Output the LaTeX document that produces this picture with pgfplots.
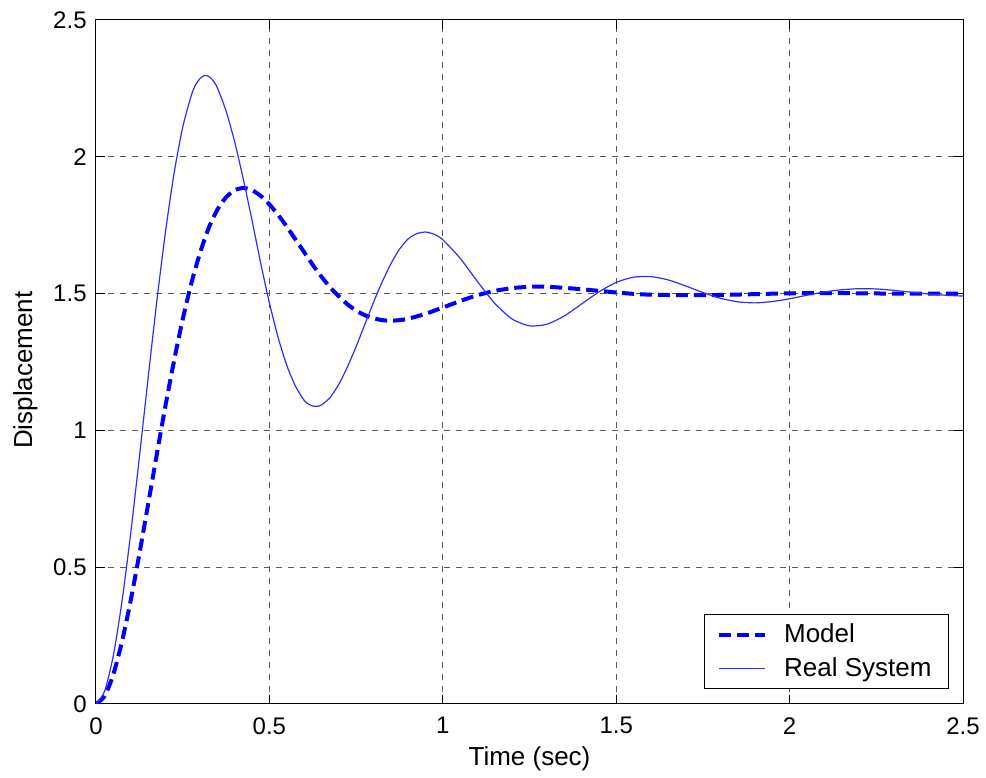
\documentclass[border=0pt]{standalone}
\usepackage{fontspec}
\setmainfont{Liberation Sans}
\usepackage{pgfplots}
\pgfplotsset{compat=1.18}
\definecolor{realblue}{RGB}{45,45,255}
\definecolor{gridgray}{RGB}{90,90,90}
\begin{document}
\begin{tikzpicture}
\begin{axis}[
  name=ax,
  scale only axis,
  width=433.5pt, height=342pt,
  xmin=0, xmax=2.5, ymin=0, ymax=2.5,
  xtick={0,0.5,1,1.5,2,2.5},
  ytick={0,0.5,1,1.5,2,2.5},
  /pgf/number format/assume math mode=true,
  tick label style={font=\fontsize{12}{14.4}\selectfont},
  xticklabel style={anchor=north, inner sep=0pt, yshift=-6.5pt},
  yticklabel style={anchor=east, inner sep=0pt, xshift=-4.5pt},
  tick align=inside,
  major tick length=4.5pt,
  tick style={black, line width=0.5pt},
  axis line style={black, line width=0.5pt},
  grid=major,
  major grid style={gridgray, line width=0.5pt, dash pattern=on 3pt off 3pt},
  xlabel={Time (sec)},
  ylabel={Displacement},
  label style={font=\fontsize{13}{15.6}\selectfont},
  xlabel style={at={(axis description cs:0.5,-0.0892)}, anchor=base},
  ylabel style={at={(axis description cs:-0.0738,0.488)}, anchor=base},
  legend style={at={(1,0)}, anchor=south east, xshift=-7pt, yshift=7.5pt,
    draw=black, line width=0.5pt, fill=white,
    inner xsep=6.5pt, inner ysep=2.5pt,
    font=\fontsize{13}{15.6}\selectfont,
    column sep=6.5pt, row sep=2pt},
  legend cell align=left,
  legend image code/.code={\draw[#1] (0pt,0pt) -- (23pt,0pt);},
]
\addplot[blue, line width=2pt, dash pattern=on 6pt off 3pt, smooth, tension=0.4] coordinates {
(0,0) (0.025,0.029) (0.05,0.108) (0.075,0.228) (0.1,0.378) (0.125,0.548)
(0.15,0.728) (0.175,0.910) (0.2,1.088) (0.225,1.254) (0.25,1.406)
(0.275,1.538) (0.3,1.649) (0.325,1.740) (0.35,1.807) (0.375,1.852)
(0.4,1.878) (0.425,1.886) (0.45,1.878) (0.475,1.857) (0.5,1.826)
(0.525,1.788) (0.55,1.745) (0.575,1.698) (0.6,1.652) (0.625,1.605)
(0.65,1.562) (0.675,1.523) (0.7,1.490) (0.725,1.461) (0.75,1.438)
(0.775,1.421) (0.8,1.410) (0.825,1.403) (0.85,1.401) (0.875,1.403)
(0.9,1.408) (0.95,1.426) (1.0,1.449) (1.05,1.473) (1.1,1.494)
(1.15,1.510) (1.2,1.520) (1.25,1.525) (1.3,1.525) (1.35,1.521)
(1.4,1.516) (1.45,1.510) (1.5,1.504) (1.55,1.499) (1.6,1.496)
(1.7,1.494) (1.8,1.495) (1.9,1.498) (2.0,1.501) (2.1,1.502)
(2.2,1.501) (2.3,1.500) (2.4,1.500) (2.5,1.500)
};
\addlegendentry{Model}
\addplot[realblue, line width=0.6pt, smooth, tension=0.4] coordinates {
(0,0) (0.025,0.047) (0.05,0.177) (0.075,0.375) (0.1,0.623) (0.125,0.901)
(0.15,1.188) (0.175,1.468) (0.2,1.722) (0.225,1.939) (0.25,2.108)
(0.275,2.225) (0.2875,2.264) (0.3,2.286) (0.3125,2.297) (0.325,2.294)
(0.3375,2.279) (0.35,2.252) (0.375,2.168)
(0.4,2.054) (0.425,1.917) (0.45,1.767) (0.475,1.611) (0.5,1.466)
(0.525,1.340) (0.55,1.238) (0.575,1.162) (0.6,1.110) (0.6125,1.096)
(0.625,1.089) (0.6375,1.088)
(0.65,1.093) (0.675,1.120) (0.7,1.168) (0.725,1.232) (0.75,1.306)
(0.775,1.387) (0.8,1.467) (0.825,1.542) (0.85,1.608) (0.875,1.662)
(0.9,1.700) (0.925,1.719) (0.95,1.725) (0.975,1.717) (1.0,1.697)
(1.05,1.629) (1.1,1.544) (1.15,1.464) (1.2,1.407) (1.25,1.382)
(1.3,1.388) (1.35,1.418) (1.4,1.462) (1.45,1.506) (1.5,1.541)
(1.55,1.560) (1.6,1.562) (1.65,1.550) (1.7,1.528) (1.75,1.504)
(1.8,1.483) (1.85,1.470) (1.9,1.466) (1.95,1.471) (2.0,1.481)
(2.05,1.494) (2.1,1.506) (2.15,1.514) (2.2,1.518) (2.25,1.517)
(2.3,1.512) (2.35,1.505) (2.4,1.499) (2.45,1.494) (2.5,1.491)
};
\addlegendentry{Real System}
\end{axis}
\path ([shift={(-48pt,-35pt)}]ax.south west) rectangle ([shift={(11.5pt,10pt)}]ax.north east);
\end{tikzpicture}
\end{document}
